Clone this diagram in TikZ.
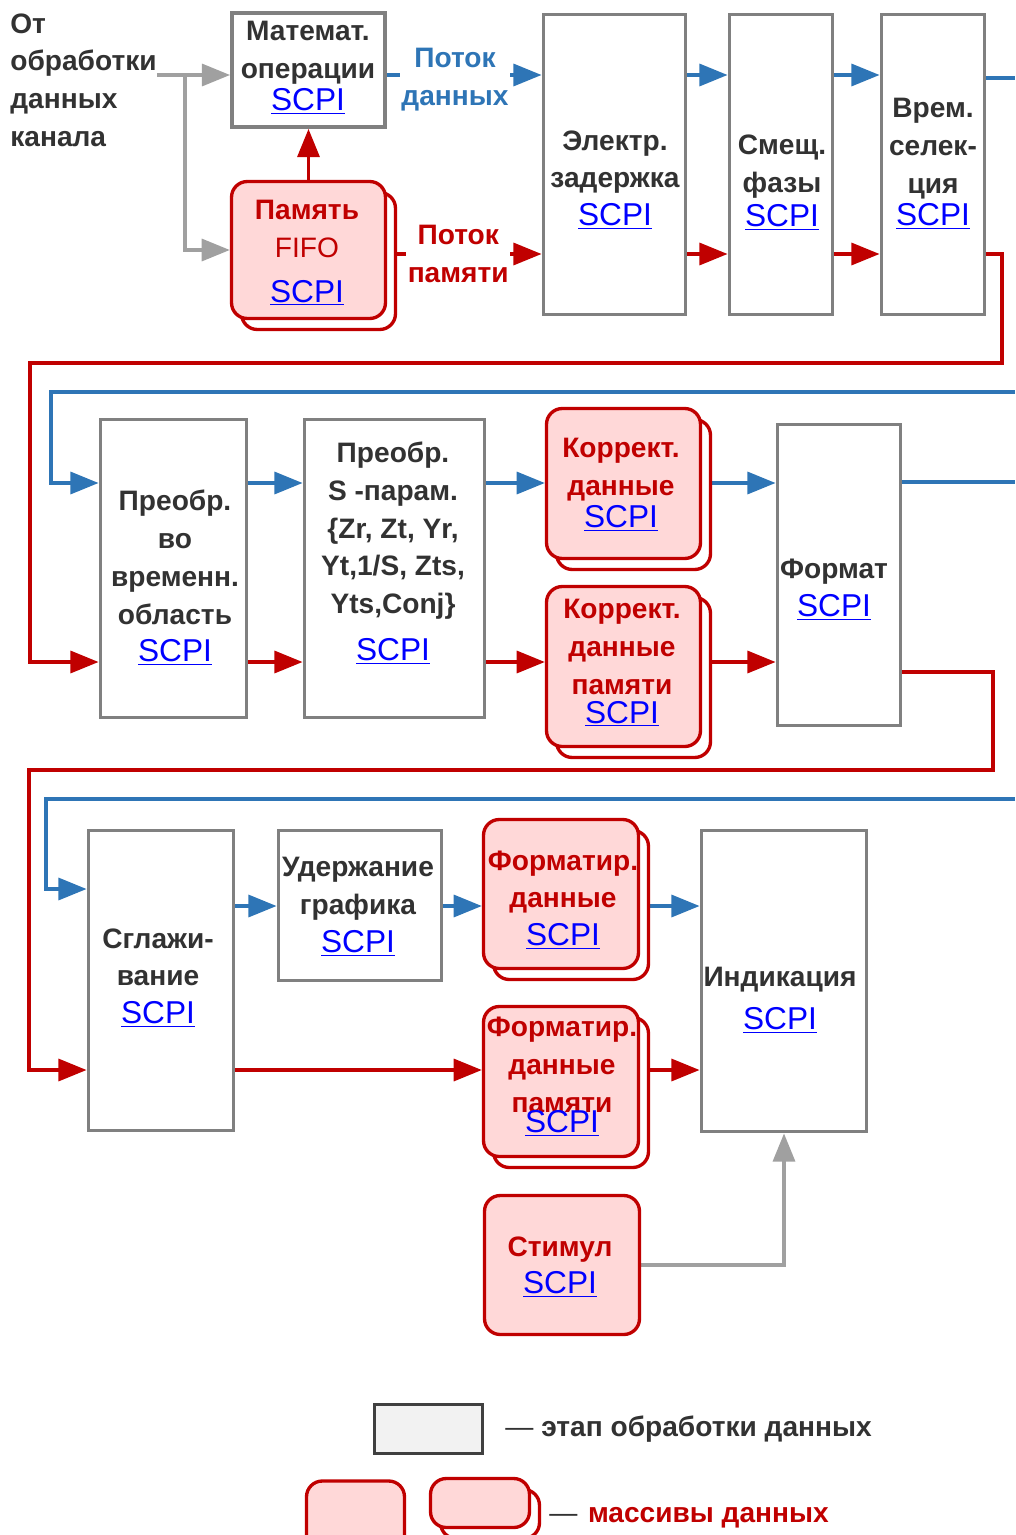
\documentclass[tikz,border=0pt]{standalone}
\usepackage{fontspec}
\setmainfont{Liberation Sans}
\usetikzlibrary{arrows.meta,shadows,backgrounds}
\definecolor{StageGray}{RGB}{128,128,128}
\definecolor{TextGray}{RGB}{50,50,50}
\definecolor{ArrayRed}{RGB}{192,0,0}
\definecolor{ArrayPink}{RGB}{255,216,216}
\definecolor{FlowBlue}{RGB}{46,117,182}
\definecolor{LineGray}{RGB}{160,160,160}
\definecolor{LinkBlue}{RGB}{0,0,255}
\definecolor{LegendFill}{RGB}{242,242,242}
\definecolor{LegendEdge}{RGB}{64,64,64}
\newlength{\pxu}\setlength{\pxu}{0.02cm}
\newcommand{\diagfont}{\fontsize{16pt}{21.5pt}\selectfont\bfseries}
\newcommand{\scpi}{{\fontsize{18pt}{21.5pt}\selectfont\mdseries\color{LinkBlue}\underline{SCPI}}}

\begin{document}
\begin{tikzpicture}[x=0.02cm, y=-0.02cm, font=\diagfont,
    stagebox/.style={draw=StageGray, line width=2.2pt, fill=white, inner sep=0pt},
    datablock/.style={draw=ArrayRed, line width=1.9pt, fill=ArrayPink,
      rounded corners=9pt, inner sep=0pt},
    datablocks/.style={datablock, copy shadow={shadow xshift=0.2cm,
      shadow yshift=-0.22cm, draw=ArrayRed, fill=white, line width=1.9pt}},
    txt/.style={align=center, inner sep=0pt, text=TextGray},
    redtxt/.style={txt, text=ArrayRed},
    flowlbl/.style={align=center, inner sep=1pt, fill=white},
    flowtip/.style={-{Triangle[length=16pt, width=12.5pt]}},
    dline/.style={draw=FlowBlue, line width=1.9pt},
    dflow/.style={dline, flowtip},
    mflow/.style={draw=ArrayRed, line width=1.9pt, flowtip},
    gflow/.style={draw=LineGray, line width=1.9pt, flowtip}]
  \useasboundingbox (0,0) rectangle (1015,1535);

  % flow levels
  \coordinate (b1) at (0,75);
  \coordinate (r1) at (0,254);
  \coordinate (b2) at (0,483);
  \coordinate (r2) at (0,662);
  \coordinate (b3) at (0,906);
  \coordinate (r3) at (0,1070);

  % row 1
  \node[txt, align=left, anchor=west] (src) at (10,80) {От\\обработки\\данных\\канала};
  \node[stagebox, minimum width=153\pxu, minimum height=114\pxu] (math) at (308.5,70) {};
  \node[txt] (math-t) at (308,68) {Математ.\\операции\\[-3pt]\scpi};
  \node[datablocks, minimum width=154\pxu, minimum height=137\pxu] (fifo) at (308.5,250) {};
  \node[redtxt] (fifo-t) at (307,253) {Память\\{\mdseries FIFO}\\[4pt]\scpi};
  \node[stagebox, minimum width=142\pxu, minimum height=300\pxu] (elec) at (614.5,164.5) {};
  \node[txt] (elec-t) at (615,180) {Электр.\\задержка\\\scpi};
  \node[stagebox, minimum width=103\pxu, minimum height=300\pxu] (shift) at (781,164.5) {};
  \node[txt] (shift-t) at (782,183) {Смещ.\\фазы\\[-2pt]\scpi};
  \node[stagebox, minimum width=103\pxu, minimum height=300\pxu] (gate) at (933,164.5) {};
  \node[txt] (gate-t) at (933,164) {Врем.\\селек-\\ция\\[-3pt]\scpi};

  % row 2
  \node[stagebox, minimum width=146\pxu, minimum height=298\pxu] (td) at (173.5,568.5) {};
  \node[txt] (td-t) at (175,578) {Преобр.\\во\\временн.\\область\\\scpi};
  \node[stagebox, minimum width=180\pxu, minimum height=298\pxu] (sp) at (394.5,568.5) {};
  \node[txt] (sp-t) at (393,553) {Преобр.\\S -парам.\\\{Zr, Zt, Yr,\\Yt,1/S, Zts,\\Yts,Conj\}\\[5pt]\scpi};
  \node[datablocks, minimum width=154\pxu, minimum height=150\pxu] (korr1) at (623.5,483.5) {};
  \node[redtxt] (korr1-t) at (621,485) {Коррект.\\данные\\[-3pt]\scpi};
  \node[datablocks, minimum width=154\pxu, minimum height=160\pxu] (korr2) at (623.5,666.5) {};
  \node[redtxt] (korr2-t) at (622,663) {Коррект.\\данные\\памяти\\[-5pt]\scpi};
  \node[stagebox, minimum width=123\pxu, minimum height=301\pxu] (format) at (839,575) {};
  \node[txt] (format-t) at (834,590) {Формат\\\scpi};

  % row 3
  \node[stagebox, minimum width=145\pxu, minimum height=300\pxu] (smooth) at (161,980.5) {};
  \node[txt] (smooth-t) at (158,978) {Сглажи-\\вание\\\scpi};
  \node[stagebox, minimum width=163\pxu, minimum height=150\pxu] (hold) at (360,905.5) {};
  \node[txt] (hold-t) at (358,907) {Удержание\\графика\\\scpi};
  \node[datablocks, minimum width=155\pxu, minimum height=149\pxu] (fd1) at (561,894) {};
  \node[redtxt] (fd1-t) at (563,900) {Форматир.\\данные\\\scpi};
  \node[datablocks, minimum width=155\pxu, minimum height=150\pxu] (fd2) at (561,1081.5) {};
  \node[redtxt] (fd2-t) at (562,1077) {Форматир.\\данные\\памяти\\[-10pt]\scpi};
  \node[stagebox, minimum width=165\pxu, minimum height=301\pxu] (ind) at (784,981) {};
  \node[txt] (ind-t) at (780,1000) {Индикация\\[3pt]\scpi};
  \node[datablock, minimum width=155\pxu, minimum height=139\pxu] (stim) at (562,1265) {};
  \node[redtxt] (stim-t) at (560,1267) {Стимул\\\scpi};

  % legend
  \node[draw=LegendEdge, fill=LegendFill, line width=2.2pt, minimum width=108\pxu,
        minimum height=49\pxu] (leg-stage) at (428.5,1429) {};
  \node[txt, anchor=west] (leg-stage-t) at (505,1429) {{\mdseries —} этап обработки данных};
  \node[datablock, minimum width=98\pxu, minimum height=72\pxu] (leg-one) at (355.5,1517) {};
  \node[datablocks, minimum width=99\pxu, minimum height=49\pxu] (leg-two) at (480,1503) {};
  \node[txt, anchor=west] (leg-arr-t) at (549,1518) {{\mdseries —}\hspace{6pt}\textcolor{ArrayRed}{массивы данных}};

  \begin{scope}[on background layer]
    % input
    \coordinate (split) at (185,75);
    \draw[gflow] (src.east |- split) -- (math.west |- split);
    \draw[gflow] (split) |- (fifo.west);
    \draw[mflow] (fifo.north) -- (math.south);
    \draw[dflow] (math.east |- b1) -- node[flowlbl, text=FlowBlue, pos=0.44, yshift=-0.1cm]
      (lbl-data) {Поток\\данных} (elec.west |- b1);
    \draw[mflow] (fifo.east |- r1) -- node[flowlbl, text=ArrayRed, pos=0.46] (lbl-mem)
      {Поток\\памяти} (elec.west |- r1);
    \draw[dflow] (elec.east |- b1) -- (shift.west |- b1);
    \draw[dflow] (shift.east |- b1) -- (gate.west |- b1);
    \draw[mflow] (elec.east |- r1) -- (shift.west |- r1);
    \draw[mflow] (shift.east |- r1) -- (gate.west |- r1);

    % wrap to row 2
    \coordinate (exit-b1) at (1015,78);
    \draw[dline] (gate.east |- exit-b1) -- (exit-b1);
    \coordinate (entry-b2) at (1015,392);
    \coordinate (turn-b2) at (51,392);
    \draw[dflow] (entry-b2) -- (turn-b2) |- (td.west |- b2);
    \coordinate (turn-r1) at (1002,363);
    \coordinate (back-r1) at (30,363);
    \draw[mflow] (gate.east |- r1) -| (turn-r1) -- (back-r1) |- (td.west |- r2);

    % row 2
    \draw[dflow] (td.east |- b2) -- (sp.west |- b2);
    \draw[dflow] (sp.east |- b2) -- (korr1.west |- b2);
    \draw[dflow] (korr1.east |- b2) -- (format.west |- b2);
    \draw[mflow] (td.east |- r2) -- (sp.west |- r2);
    \draw[mflow] (sp.east |- r2) -- (korr2.west |- r2);
    \draw[mflow] (korr2.east |- r2) -- (format.west |- r2);

    % wrap to row 3
    \coordinate (exit-b2) at (1015,482);
    \draw[dline] (format.east |- exit-b2) -- (exit-b2);
    \coordinate (entry-b3) at (1015,799);
    \coordinate (turn-b3) at (46,799);
    \coordinate (in-b3) at (0,889);
    \draw[dflow] (entry-b3) -- (turn-b3) |- (smooth.west |- in-b3);
    \coordinate (out-r2) at (0,672);
    \coordinate (turn-r2) at (993,770);
    \coordinate (back-r2) at (29,770);
    \draw[mflow] (format.east |- out-r2) -| (turn-r2) -- (back-r2) |- (smooth.west |- r3);

    % row 3
    \draw[dflow] (smooth.east |- b3) -- (hold.west |- b3);
    \draw[dflow] (hold.east |- b3) -- (fd1.west |- b3);
    \draw[dflow] (fd1.east |- b3) -- (ind.west |- b3);
    \draw[mflow] (smooth.east |- r3) -- (fd2.west |- r3);
    \draw[mflow] (fd2.east |- r3) -- (ind.west |- r3);
    \draw[gflow] (stim.east) -| (ind.south);
  \end{scope}
\end{tikzpicture}
\end{document}
